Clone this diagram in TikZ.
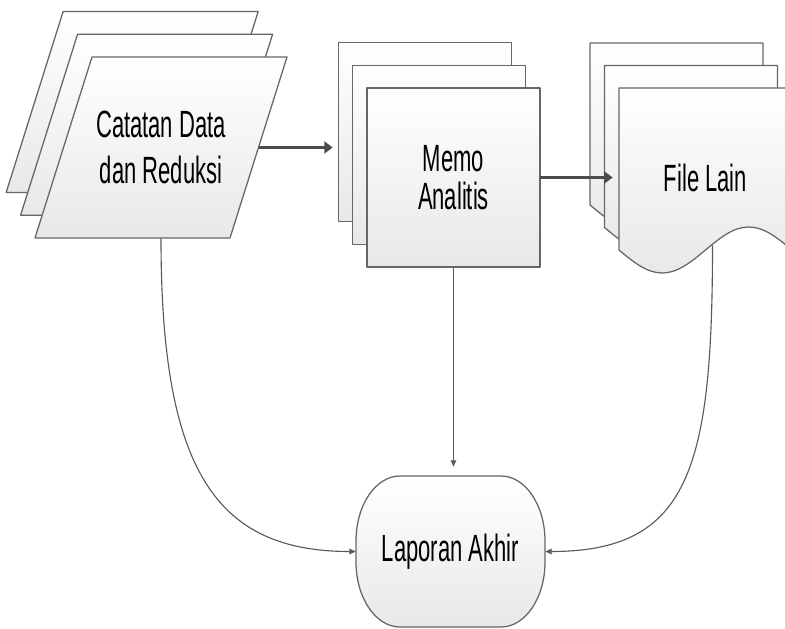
\documentclass[tikz,border=0pt]{standalone}
\usepackage{fontspec}
\setmainfont{Liberation Sans}[FakeStretch=0.58]
\usetikzlibrary{shadows,arrows.meta}

\begin{document}
\begin{tikzpicture}[x=0.025cm,y=0.025cm,line join=round,
    box/.style={draw=black!60, line width=0.9pt, top color=white, bottom color=black!9},
    stack/.style={box,
      copy shadow={box, shadow xshift=-0.72cm, shadow yshift=1.14cm},
      copy shadow={box, shadow xshift=-0.36cm, shadow yshift=0.57cm}},
    big/.style={draw=black!70, line width=2.6pt, -{Triangle[length=6pt,width=8.5pt]}},
    thin/.style={draw=black!65, line width=0.8pt, -{Triangle[length=4.5pt,width=4pt]}},
    txt/.style={font=\fontsize{27}{27}\selectfont, align=center}]
    \useasboundingbox (0,0) rectangle (785,-629);
    % sheets behind Catatan Data
    \path[stack] (92,-57) -- (287,-57) -- (230,-238) -- (35,-238) -- cycle;
    % sheets behind Memo Analitis
    \path[stack] (367,-88) rectangle (540,-267);
    % pages behind File Lain
    \foreach \dx/\dy in {-29/45,-14.5/22.5,0/0}
      \draw[box, shift={(\dx,\dy)}] (619,-88) -- ++(173,0) -- ++(0,-162)
        sin ++(-43.25,23) cos ++(-43.25,-23) sin ++(-43.25,-23) cos ++(-43.25,23) -- cycle;
    % outline of Laporan Akhir
    \draw[box] (400,-476) -- (501,-476) arc[start angle=90,end angle=0,x radius=44,y radius=65]
      -- (545,-562) arc[start angle=0,end angle=-90,x radius=44,y radius=65]
      -- (400,-627) arc[start angle=270,end angle=180,x radius=44,y radius=65]
      -- (356,-541) arc[start angle=180,end angle=90,x radius=44,y radius=65] -- cycle;
    \node (cat) [txt, font=\fontsize{27}{33}\selectfont, minimum width=4.875cm, minimum height=4.525cm] at (161,-147.5) {Catatan Data\\dan Reduksi};
    \node (memo) [txt, minimum width=4.325cm, minimum height=4.475cm] at (453.5,-177.5) {Memo\\Analitis};
    \node (file) [txt, minimum width=4.325cm, minimum height=3.35cm] at (705.5,-178) {File Lain};
    \node (lap) [txt, minimum width=4.725cm, minimum height=3.775cm] at (450.5,-551.5) {Laporan Akhir};
    \draw[big, shorten >=0.85cm] (cat.east) -- (cat.east -| memo.west);
    \draw[big, shorten >=0.15cm] (memo.east) -- (file.west |- memo.east);
    \draw[thin, shorten >=0.225cm] (memo.south) -- (memo.south |- lap.north);
    \draw[thin] (cat.south) .. controls +(0,-232) and +(-140,0) .. (lap.west);
    \draw[thin] ([xshift=0.175cm]file.south) .. controls +(0,-225) and +(143,0) .. (lap.east);
\end{tikzpicture}
\end{document}
